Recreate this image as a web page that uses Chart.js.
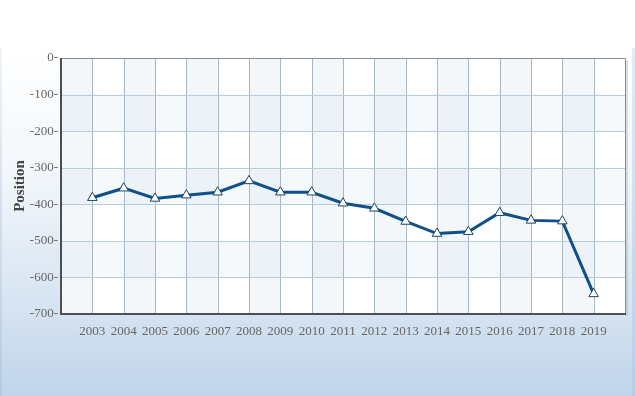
<!DOCTYPE html>
<html><head><meta charset="utf-8">
<script src="https://cdn.jsdelivr.net/npm/chart.js@4/dist/chart.umd.min.js"></script>
<style>
html,body{margin:0;padding:0;width:635px;height:396px;overflow:hidden;background:#fff;}
#panel{position:absolute;left:0;top:48px;width:635px;height:348px;
 background:linear-gradient(to bottom,#ffffff 0%,#f3f7fb 35%,#d6e3f1 75%,#c0d4ea 100%);}
#edgeL{position:absolute;left:0;top:48px;width:2px;height:348px;background:linear-gradient(to bottom,#eef4fa,#b3cae4);}
#edgeR{position:absolute;left:632px;top:48px;width:3px;height:348px;background:linear-gradient(to bottom,#e4edf6,#b8cde6);}
#wrap{position:absolute;left:0;top:0;width:635px;height:396px;}
</style></head>
<body>
<div id="panel"></div><div id="edgeL"></div><div id="edgeR"></div>
<div id="wrap"><canvas id="c" width="635" height="396"></canvas></div>
<script>
const years = [2003,2004,2005,2006,2007,2008,2009,2010,2011,2012,2013,2014,2015,2016,2017,2018,2019];
const positions = [-382,-356,-384,-375,-367,-336,-367,-367,-397,-411,-447,-480,-475,-423,-444,-446,-645];
const yTicks = [0,-100,-200,-300,-400,-500,-600,-700];
const xMin = 2002, xMax = 2020;

const bandPlugin = {
  id:'bands',
  beforeDatasetsDraw(chart){
    const {ctx, chartArea:a, scales:{x,y}} = chart;
    ctx.save();
    ctx.fillStyle = '#ffffff';
    ctx.fillRect(a.left,a.top,a.right-a.left,a.bottom-a.top);
    for(let v=xMin; v<xMax; v++){
      if((v-xMin)%2===0){
        const l=x.getPixelForValue(v), r=x.getPixelForValue(v+1);
        ctx.fillStyle='rgba(214,228,238,0.30)';
        ctx.fillRect(l,a.top,r-l,a.bottom-a.top);
      }
    }
    for(let i=0;i<yTicks.length-1;i++){
      if(i%2===1){
        const t=y.getPixelForValue(yTicks[i]), b=y.getPixelForValue(yTicks[i+1]);
        ctx.fillStyle='rgba(214,228,238,0.22)';
        ctx.fillRect(a.left,t,a.right-a.left,b-t);
      }
    }
    ctx.lineWidth=1;
    for(let v=xMin+1; v<xMax; v++){
      const px=Math.round(x.getPixelForValue(v))+0.5;
      ctx.strokeStyle='#a7b8c2';
      ctx.beginPath();ctx.moveTo(px,a.top);ctx.lineTo(px,a.bottom);ctx.stroke();
    }
    for(let i=1;i<yTicks.length-1;i++){
      const py=Math.round(y.getPixelForValue(yTicks[i]))+0.5;
      ctx.strokeStyle='#b8ccd8';
      ctx.beginPath();ctx.moveTo(a.left,py);ctx.lineTo(a.right,py);ctx.stroke();
    }
    ctx.restore();
  },
  afterDatasetsDraw(chart){
    const {ctx, chartArea:a} = chart;
    ctx.save();
    ctx.fillStyle='rgba(120,130,140,0.25)';
    ctx.fillRect(a.right+1,a.top+2,2,a.bottom-a.top);
    ctx.strokeStyle='#8a8f94';ctx.lineWidth=1;
    ctx.beginPath();ctx.moveTo(a.left,a.top+0.5);ctx.lineTo(a.right+0.5,a.top+0.5);ctx.lineTo(a.right+0.5,a.bottom);ctx.stroke();
    ctx.strokeStyle='#4a4f55';ctx.lineWidth=2;
    ctx.beginPath();ctx.moveTo(a.left,a.top);ctx.lineTo(a.left,a.bottom);ctx.lineTo(a.right+1,a.bottom);ctx.stroke();
    ctx.restore();
  }
};

new Chart(document.getElementById('c'),{
  type:'line',
  data:{datasets:[{
    data: years.map((yr,i)=>({x:yr,y:positions[i]})),
    borderColor:'#0f4f8a',
    borderWidth:3,
    pointStyle:'triangle',
    pointRadius:5.5,
    pointBorderWidth:1,
    pointBorderColor:'#1b4466',
    pointBackgroundColor:'#ffffff',
    tension:0
  }]},
  options:{
    responsive:false,animation:false,
    layout:{padding:{left:0,top:58,right:10,bottom:0}},
    plugins:{legend:{display:false},tooltip:{enabled:false}},
    scales:{
      x:{type:'linear',min:xMin,max:xMax,
        afterFit(s){s.height=82;},
        grid:{display:false,drawTicks:false},
        border:{display:false},
        ticks:{stepSize:1,autoSkip:false,maxRotation:0,padding:10,color:'#666',
          font:{family:'"Liberation Serif", "Times New Roman", serif',size:13},
          callback:(v)=> (v>=years[0] && v<=years[years.length-1]) ? String(v) : ''}
      },
      y:{type:'linear',min:-700,max:0,
        afterFit(s){s.width=61;},
        afterBuildTicks(s){s.ticks=yTicks.map(v=>({value:v}));},
        grid:{display:false,drawTicks:false},
        border:{display:false},
        ticks:{padding:3,color:'#666',
          font:{family:'"Liberation Serif", "Times New Roman", serif',size:13},
          callback:(v)=> String(v)+'-'},
        title:{display:true,text:'Position',color:'#444',padding:{top:11,bottom:0},
          font:{family:'"Liberation Serif", "Times New Roman", serif',size:15,weight:'bold'}}
      }
    }
  },
  plugins:[bandPlugin]
});
</script>
</body></html>
